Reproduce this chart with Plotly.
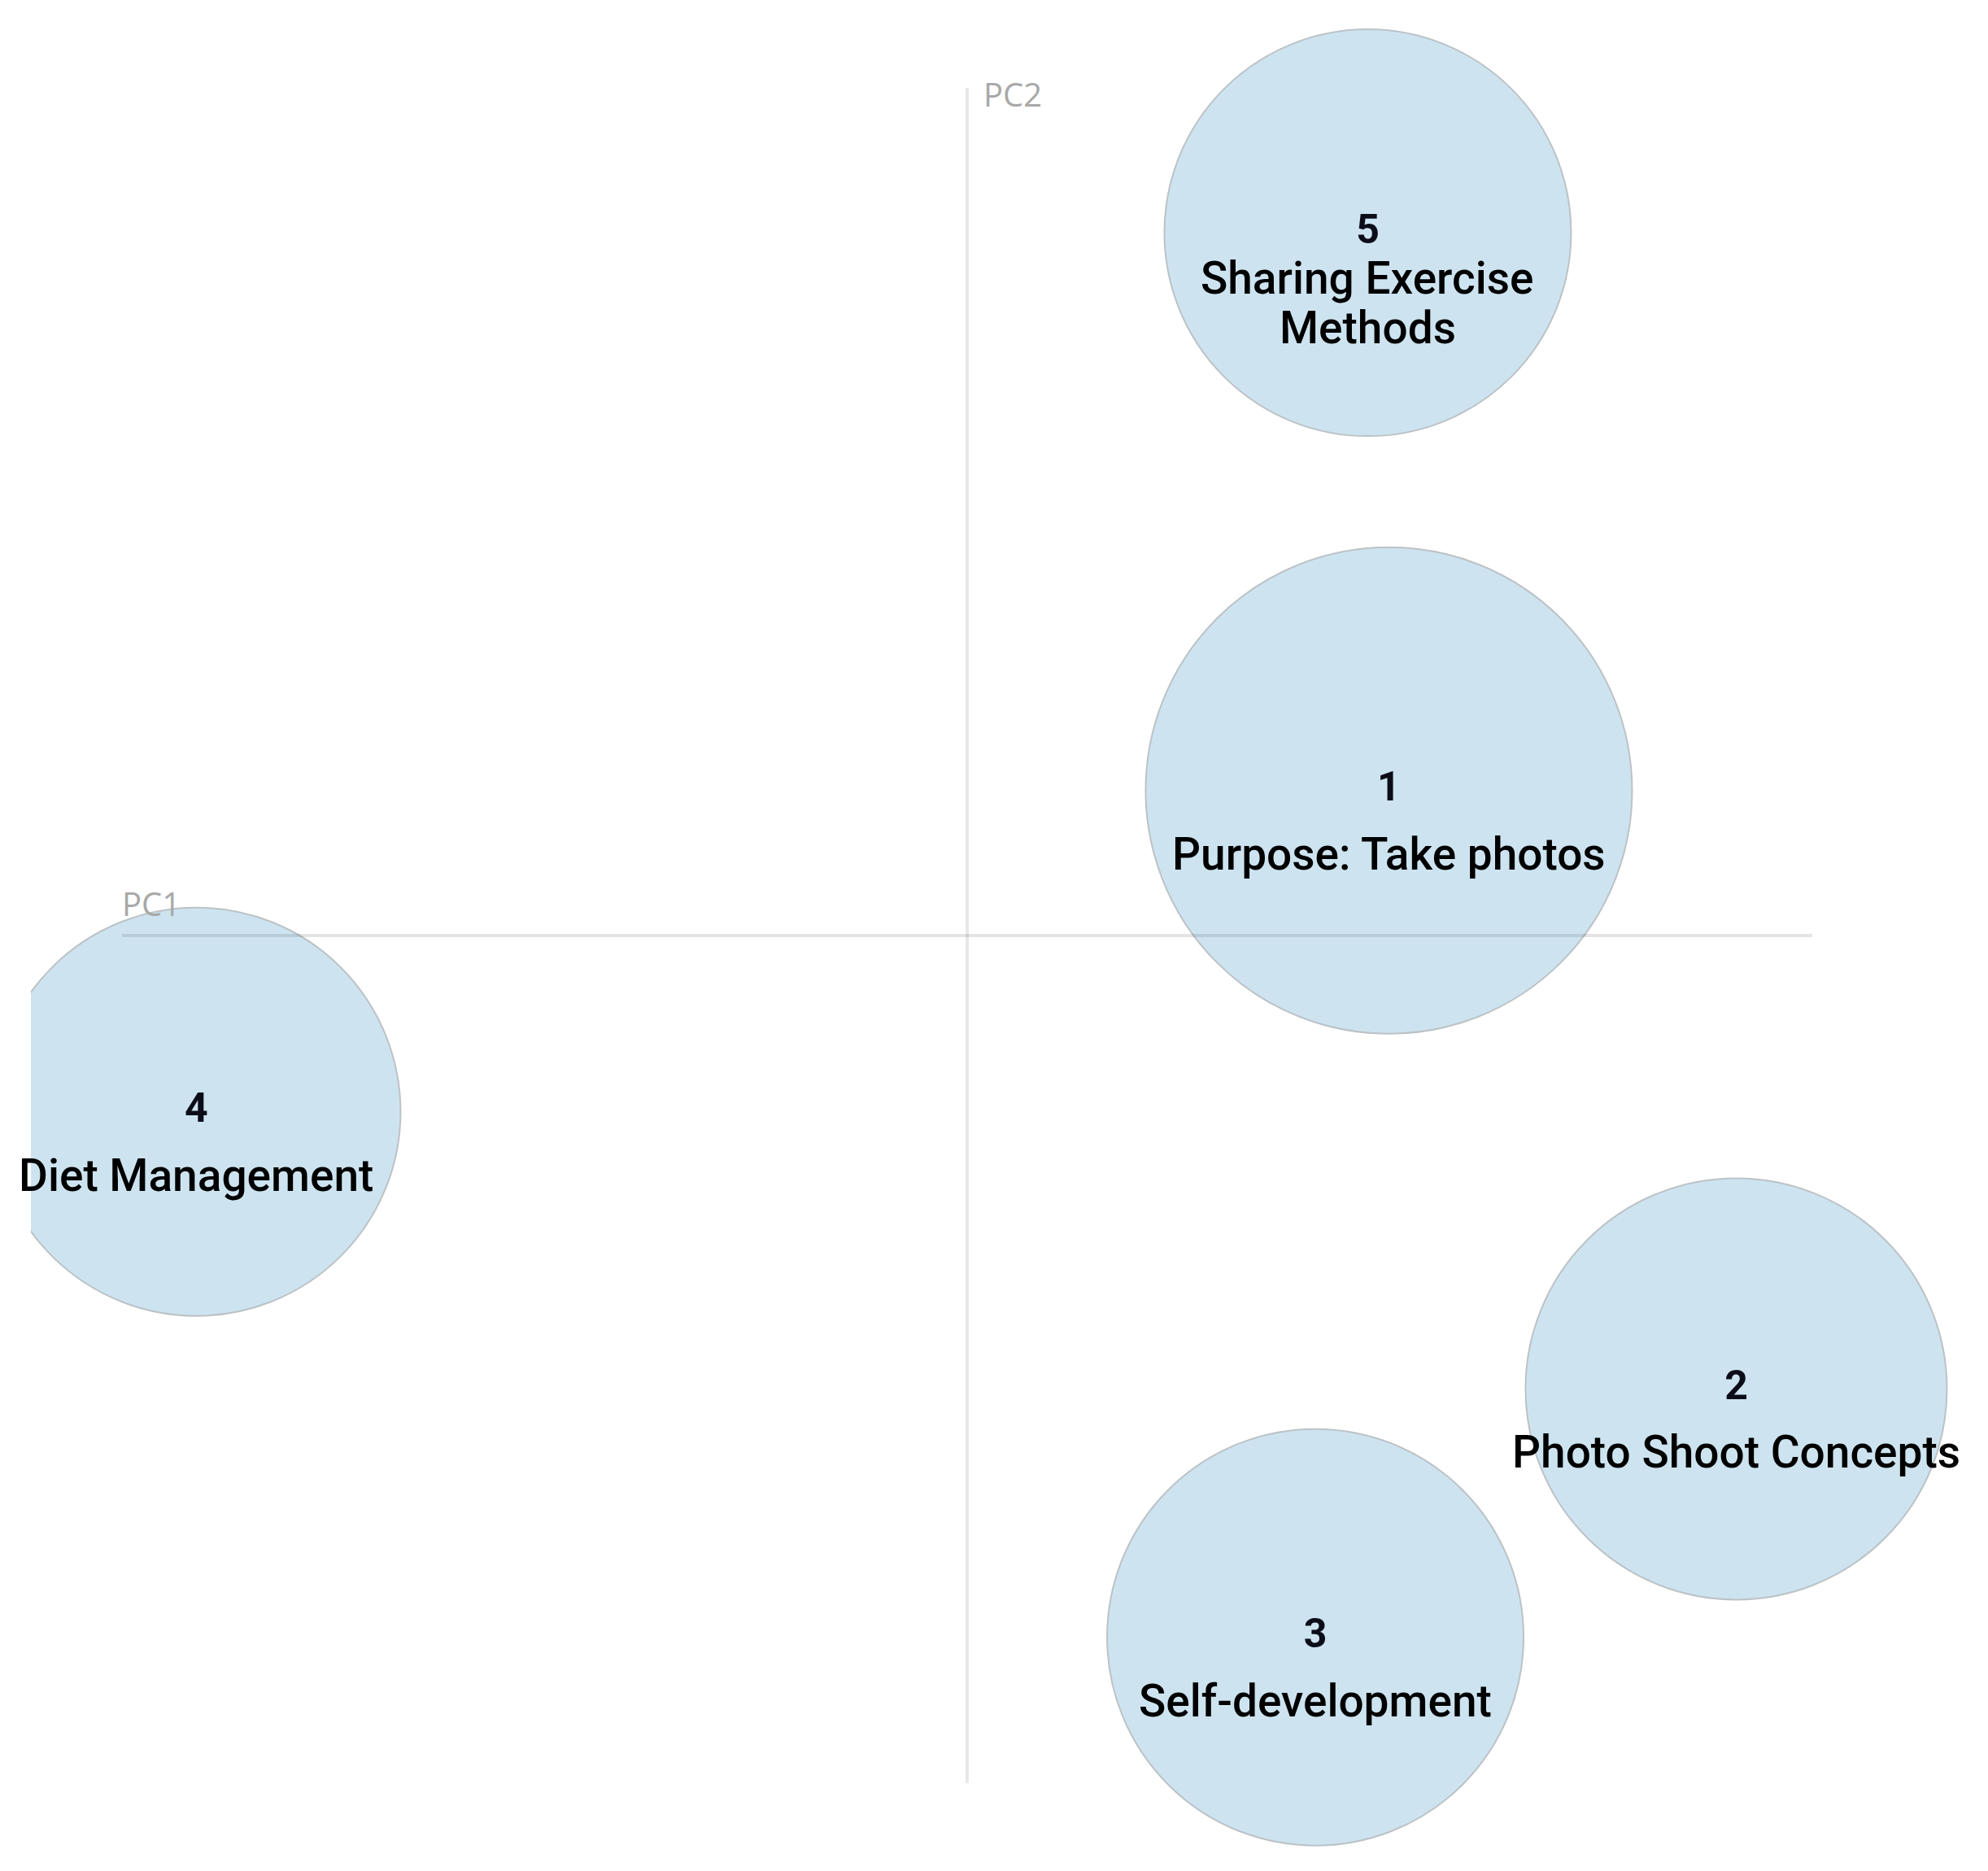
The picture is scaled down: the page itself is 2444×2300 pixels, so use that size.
import plotly.graph_objects as go

# cluster bubbles on the PC1 / PC2 plane
cluster_ids = ["1", "2", "3", "4", "5"]
cluster_names = ["Purpose: Take photos", "Photo Shoot Concepts", "Self-development",
                 "Diet Management", "Sharing Exercise<br>Methods"]
pc1 = [0.499, 0.910, 0.412, -0.912, 0.474]
pc2 = [0.171, -0.535, -0.828, -0.208, 0.829]
bubble_size = [598, 518, 512, 502, 500]

FILL = "#cde4f0"
EDGE = "rgb(188,194,198)"

fig = go.Figure()

fig.add_trace(go.Scatter(
    x=pc1, y=pc2, mode="markers+text",
    text=[f"<b>{c}</b>" for c in cluster_ids],
    textposition="middle center",
    textfont=dict(family="Roboto", size=50, color="#0d0d1a"),
    marker=dict(size=bubble_size, sizemode="diameter", color=FILL, opacity=1,
                line=dict(color=EDGE, width=2)),
    hoverinfo="skip", showlegend=False,
))

# label lines under the cluster number
for x, y, name in zip(pc1, pc2, cluster_names):
    lines = name.split("<br>")
    first = 78 - 22 * (len(lines) - 1)
    for i, line in enumerate(lines):
        fig.add_annotation(x=x, y=y, xref="x", yref="y", text=line, showarrow=False,
                           yanchor="middle", yshift=-(first + 61 * i),
                           font=dict(family="Roboto", size=55, color="#000000", weight=500))

# axis lines
fig.add_shape(type="line", x0=-1, x1=1, y0=0, y1=0, xref="x", yref="y", layer="above",
              line=dict(color="rgba(0,0,0,0.10)", width=4))
fig.add_shape(type="line", x0=0, x1=0, y0=-1, y1=1, xref="x", yref="y", layer="above",
              line=dict(color="rgba(0,0,0,0.09)", width=4))

fig.add_annotation(x=0, y=1, xref="x", yref="y", text="PC2", showarrow=False,
                   xanchor="left", yanchor="middle", xshift=18, yshift=-8,
                   font=dict(family="Open Sans", size=40, color="#a8a8a8"))
fig.add_annotation(x=-1, y=0, xref="x", yref="y", text="PC1", showarrow=False,
                   xanchor="left", yanchor="bottom", xshift=-2, yshift=10,
                   font=dict(family="Open Sans", size=40, color="#a8a8a8"))

fig.update_xaxes(range=[-1.1078, 1.2156], visible=False, showgrid=False, zeroline=False)
fig.update_yaxes(range=[-1.1114, 1.0959], visible=False, showgrid=False, zeroline=False)

fig.update_layout(
    width=2444, height=2300,
    margin=dict(l=30, r=0, t=0, b=0),
    plot_bgcolor="white", paper_bgcolor="white",
)

fig.write_html("out.html")
